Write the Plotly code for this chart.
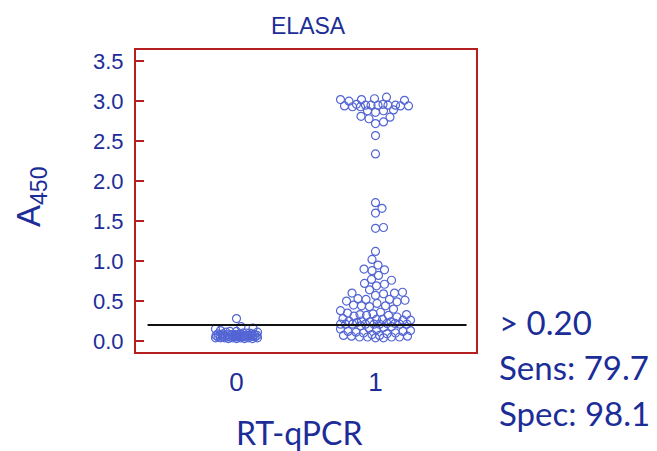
import plotly.graph_objects as go
import numpy as np

# ---------------- data ----------------
categories = [0, 1]
category_labels = ["0", "1"]

group0_values = [0.28, 0.18, 0.16, 0.15, 0.13, 0.12, 0.12, 0.11, 0.11, 0.10,
                 0.10, 0.10, 0.09, 0.09, 0.09, 0.09, 0.08, 0.08, 0.08, 0.08,
                 0.08, 0.07, 0.07, 0.07, 0.07, 0.07, 0.07, 0.06, 0.06, 0.06,
                 0.06, 0.06, 0.06, 0.06, 0.05, 0.05, 0.05, 0.05, 0.05, 0.05,
                 0.05, 0.05, 0.04, 0.04, 0.04, 0.04, 0.04, 0.04, 0.04, 0.03,
                 0.03, 0.03, 0.03]

group1_values = [3.05, 3.03, 3.02, 3.02, 3.01, 3.00,
                 2.96, 2.96, 2.95, 2.95, 2.95, 2.95, 2.95, 2.94, 2.94, 2.94,
                 2.93, 2.93,
                 2.89, 2.88, 2.88, 2.86, 2.81, 2.80, 2.78, 2.74, 2.72,
                 2.57, 2.34, 1.73, 1.66, 1.60, 1.42, 1.41,
                 1.12, 1.02, 0.95, 0.90, 0.89, 0.88, 0.82, 0.77, 0.76, 0.72,
                 0.71, 0.69, 0.64, 0.61, 0.60, 0.60, 0.59, 0.57, 0.53, 0.52,
                 0.52, 0.51, 0.50, 0.49, 0.47, 0.45, 0.44, 0.44, 0.43, 0.40,
                 0.38, 0.36, 0.35, 0.34, 0.33, 0.33, 0.32, 0.32, 0.31, 0.30,
                 0.28, 0.27, 0.27, 0.26, 0.26, 0.25, 0.25, 0.24, 0.24, 0.23,
                 0.22, 0.22, 0.21, 0.21, 0.21, 0.21, 0.21, 0.21, 0.21, 0.21,
                 0.19, 0.18, 0.17, 0.16, 0.15, 0.14, 0.13, 0.12, 0.12, 0.11,
                 0.10, 0.10, 0.09, 0.08, 0.07, 0.07, 0.06, 0.06, 0.05, 0.05,
                 0.05, 0.05, 0.04, 0.04]

cutoff = 0.20
cutoff_x = [-0.64, 1.655]
y_ticks = [0.0, 0.5, 1.0, 1.5, 2.0, 2.5, 3.0, 3.5]

# ---------------- style ----------------
BLUE_TXT = "#1c2d98"
RED = "#b3201f"
MARK = "#5365d4"

W, H = 657, 451
L, R, T, B = 136, 476, 50, 352
X_RANGE = [-0.723, 1.723]
Y_RANGE = [-0.1375, 3.64]
PX_PER_X = (R - L) / (X_RANGE[1] - X_RANGE[0])
PX_PER_Y = (B - T) / (Y_RANGE[1] - Y_RANGE[0])


def swarm_x(center, values, half_width_px, d=8.0):
    """Greedy beeswarm: place each point at the closest free horizontal offset."""
    vals = np.asarray(values, dtype=float)
    order = np.argsort(vals, kind="stable")
    placed = []
    xs = np.zeros(len(vals))
    cands = [0.0]
    step = 0.5
    k = 1
    while k * step <= half_width_px:
        cands += [k * step, -k * step]
        k += 1
    for i in order:
        ypx = vals[i] * PX_PER_Y
        best, best_score = 0.0, -1.0
        chosen = None
        for c in cands:
            mind = min([np.hypot(c - px_, ypx - py_) for px_, py_ in placed], default=1e9)
            if mind >= d:
                chosen = c
                break
            if mind > best_score:
                best_score, best = mind, c
        if chosen is None:
            chosen = best
        placed.append((chosen, ypx))
        xs[i] = center + chosen / PX_PER_X
    return xs


x0 = swarm_x(categories[0], group0_values, 21)
x1 = swarm_x(categories[1], group1_values, 35)

fig = go.Figure()

for xs, ys in [(x0, group0_values), (x1, group1_values)]:
    fig.add_trace(go.Scatter(
        x=xs, y=ys, mode="markers",
        marker=dict(symbol="circle-open", size=8, color=MARK,
                    line=dict(width=1.2, color=MARK)),
        showlegend=False, hoverinfo="y"))

fig.add_trace(go.Scatter(x=[0.78, 1.24], y=[cutoff - 0.01, cutoff - 0.01],
                         mode="lines", line=dict(color="#d8c84a", width=1, dash="dot"),
                         showlegend=False, hoverinfo="skip"))
fig.add_trace(go.Scatter(x=cutoff_x, y=[cutoff, cutoff], mode="lines",
                         line=dict(color="#111111", width=2.2),
                         showlegend=False, hoverinfo="skip"))


def px(xp):
    return (xp - L) / (R - L)


def py(yp):
    return (B - yp) / (B - T)


fig.update_layout(
    width=W, height=H,
    margin=dict(l=L, r=W - R, t=T, b=H - B),
    paper_bgcolor="white", plot_bgcolor="white",
    xaxis=dict(range=X_RANGE, tickvals=categories, ticktext=category_labels,
               showgrid=False, zeroline=False, showline=True, mirror=True,
               linecolor=RED, linewidth=2, ticks="", ticklabelstandoff=6,
               tickfont=dict(family="Liberation Sans, Arial", size=26, color=BLUE_TXT)),
    yaxis=dict(range=Y_RANGE, tickvals=y_ticks,
               ticktext=[f"{v:.1f}" for v in y_ticks],
               showgrid=False, zeroline=False, showline=True, mirror=True,
               linecolor=RED, linewidth=2, ticks="inside", ticklen=8, tickwidth=1.5,
               tickcolor=RED, ticklabelstandoff=6,
               tickfont=dict(family="Liberation Sans, Arial", size=22, color=BLUE_TXT)),
    annotations=[
        dict(text="ELASA", xref="paper", yref="paper", x=px(308), y=py(26),
             showarrow=False, xanchor="center", yanchor="middle",
             font=dict(family="Liberation Sans, Arial", size=23, color=BLUE_TXT)),
        dict(text="A<sub>450</sub>", xref="paper", yref="paper", x=px(31), y=py(197),
             showarrow=False, textangle=-90, xanchor="center", yanchor="middle",
             font=dict(family="Liberation Sans, Arial", size=33, color=BLUE_TXT)),
        dict(text="RT-qPCR", xref="paper", yref="paper", x=px(299), y=py(432),
             showarrow=False, xanchor="center", yanchor="middle",
             font=dict(family="Lato", size=32, color=BLUE_TXT)),
        dict(text="&gt; 0.20", xref="paper", yref="paper", x=px(497), y=py(322),
             showarrow=False, xanchor="left", yanchor="middle",
             font=dict(family="Lato", size=33, color=BLUE_TXT)),
        dict(text="Sens: 79.7", xref="paper", yref="paper", x=px(497), y=py(367),
             showarrow=False, xanchor="left", yanchor="middle",
             font=dict(family="Lato", size=33, color=BLUE_TXT)),
        dict(text="Spec: 98.1", xref="paper", yref="paper", x=px(497), y=py(413),
             showarrow=False, xanchor="left", yanchor="middle",
             font=dict(family="Lato", size=33, color=BLUE_TXT)),
    ],
)

fig.write_html("out.html")
